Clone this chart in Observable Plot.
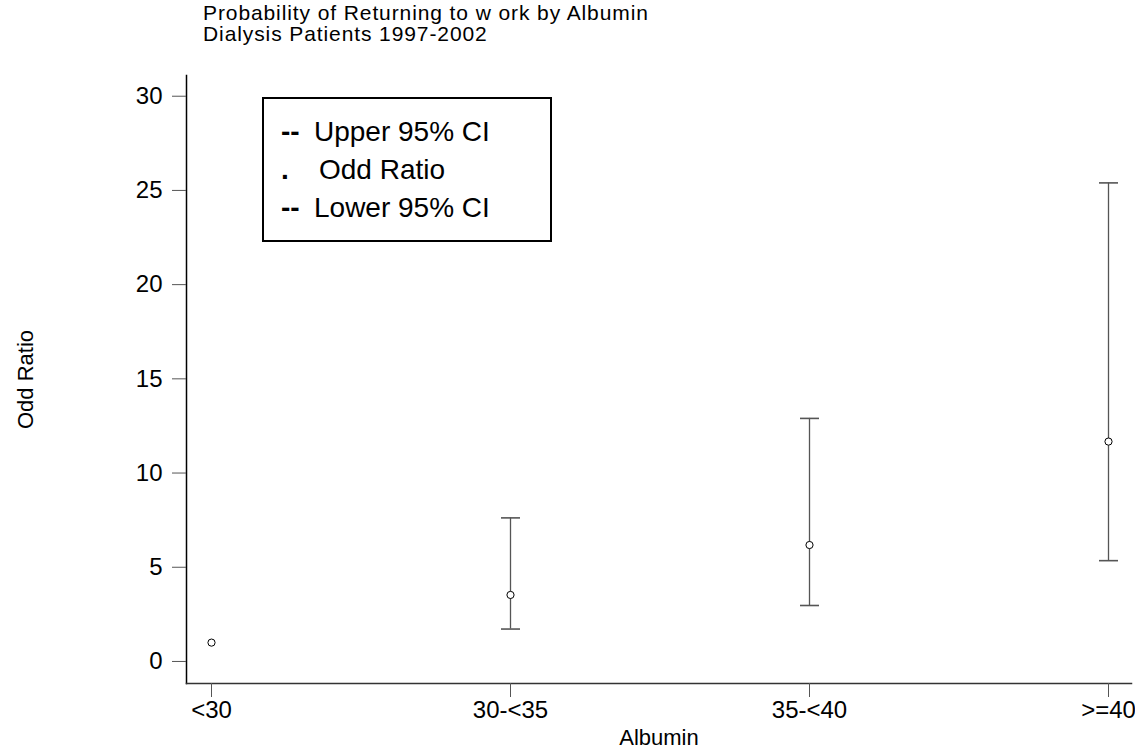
<!DOCTYPE html>
<html>
<head>
<meta charset="utf-8">
<script src="https://cdn.jsdelivr.net/npm/d3@7"></script>
<script src="https://cdn.jsdelivr.net/npm/@observablehq/plot@0.6"></script>
<style>
  html, body { margin: 0; padding: 0; background: #fff; }
  body { width: 1135px; height: 750px; position: relative; overflow: hidden; font-family: "Liberation Sans", Arial, sans-serif; }
  #title { height: 46px; box-sizing: border-box; padding-left: 203px; padding-top: 2px; font-size: 21px; line-height: 21px; color: #000; letter-spacing: 0.9px; }
  #legend { position: absolute; left: 262px; top: 97px; width: 290px; height: 145px; box-sizing: border-box; border: 2px solid #000; background: #fff; font-size: 28px; line-height: 38px; padding-top: 14px; padding-left: 17px; white-space: nowrap; }
  #legend b { display: inline-block; width: 33px; }
  #legend .dot { display: inline-block; width: 38px; font-weight: bold; }
  svg { overflow: visible; }
</style>
</head>
<body>
<div id="title">Probability of Returning to w ork by Albumin<br>Dialysis Patients 1997-2002</div>
<div id="chart"></div>
<div id="legend">
  <div><b>--</b>Upper 95% CI</div>
  <div><span class="dot">.</span>Odd Ratio</div>
  <div><b>--</b>Lower 95% CI</div>
</div>
<script>
const categories = ["<30", "30-<35", "35-<40", ">=40"];
const oddRatio = [1.0, 3.53, 6.18, 11.67];
const lowerCI = [null, 1.72, 2.97, 5.35];
const upperCI = [null, 7.62, 12.9, 25.4];
const yTicks = [0, 5, 10, 15, 20, 25, 30];

const rows = categories.map((c, i) => ({cat: c, or: oddRatio[i], lo: lowerCI[i], hi: upperCI[i]}));
const ci = rows.filter(d => d.lo != null);

// horizontal cap symbol (half-width = r)
const capSymbol = {
  draw(ctx, size) {
    const w = Math.sqrt(size / Math.PI);
    ctx.moveTo(-w, 0);
    ctx.lineTo(w, 0);
  }
};

const chart = Plot.plot({
  width: 1135,
  height: 704,
  marginLeft: 186,
  marginRight: 4,
  marginTop: 29,
  marginBottom: 67,
  style: {fontFamily: "'Liberation Sans', Arial, sans-serif", fontSize: "24px", color: "#000", background: "#fff"},
  x: {type: "point", domain: categories, padding: 0, insetLeft: 24, insetRight: 23, label: null},
  y: {domain: [-1.17, 31.1], ticks: yTicks, label: null},
  marks: [
    Plot.frame({anchor: "left", stroke: "#000", strokeWidth: 1.5}),
    Plot.frame({anchor: "bottom", stroke: "#333", strokeWidth: 1.5}),
    Plot.axisY({ticks: yTicks, tickSize: 14, tickPadding: 10, fontSize: 24, stroke: "#555", label: null}),
    Plot.axisX({tickSize: 14, tickPadding: 3, fontSize: 24, stroke: "#555", label: null}),
    Plot.ruleX(ci, {x: "cat", y1: "lo", y2: "hi", stroke: "#555", strokeWidth: 1.3}),
    Plot.dot(ci, {x: "cat", y: "hi", symbol: capSymbol, r: 9.5, stroke: "#555", strokeWidth: 1.6, fill: "none"}),
    Plot.dot(ci, {x: "cat", y: "lo", symbol: capSymbol, r: 9.5, stroke: "#555", strokeWidth: 1.6, fill: "none"}),
    Plot.dot(rows, {x: "cat", y: "or", r: 3.6, stroke: "#000", strokeWidth: 1, fill: "#fff"}),
    Plot.text(["Albumin"], {frameAnchor: "bottom", dy: 61, text: d => d, fontSize: 22, lineAnchor: "bottom"}),
    Plot.text(["Odd Ratio"], {frameAnchor: "left", textAnchor: "middle", dx: -161, text: d => d, fontSize: 22, rotate: -90, letterSpacing: 1.5})
  ]
});
document.getElementById("chart").appendChild(chart);
</script>
</body>
</html>
